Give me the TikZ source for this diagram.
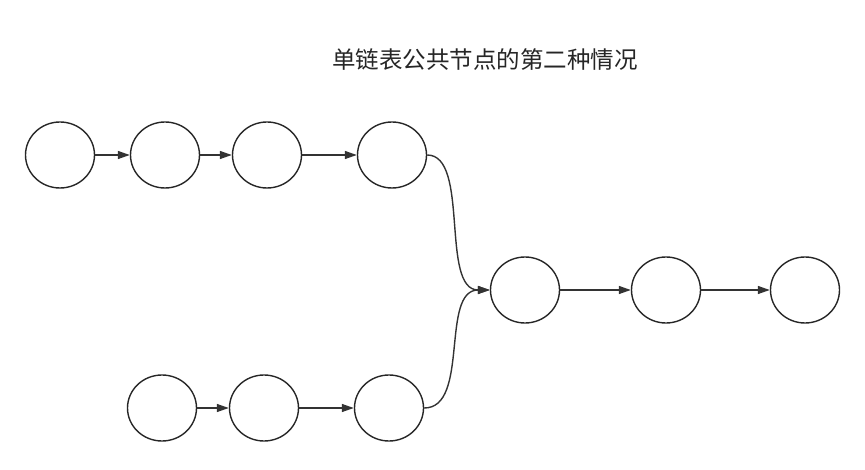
\documentclass[tikz,border=0pt]{standalone}
\usepackage{fontspec}
\newfontfamily\cjk{Noto Sans CJK SC}
\usetikzlibrary{arrows.meta,shapes.geometric}
\begin{document}
\begin{tikzpicture}[x=1pt,y=-1pt,
  nd/.style={draw=black!85,line width=1.4pt,ellipse,minimum width=69pt,minimum height=66pt,inner sep=0pt},
  ar/.style={draw=black!80,line width=1.4pt,-{Triangle[length=12pt,width=8pt]}}]
\useasboundingbox (0,0) rectangle (865,470);
\node[font=\cjk\fontsize{23.5}{26}\selectfont,text=black!85] (t) at (485,60) {单链表公共节点的第二种情况};
\node[nd] (a1) at (60,155) {};
\node[nd] (a2) at (165,155) {};
\node[nd] (a3) at (267,155) {};
\node[nd] (a4) at (392,155) {};
\node[nd] (c1) at (525,290) {};
\node[nd] (c2) at (666,290) {};
\node[nd] (c3) at (805,290) {};
\node[nd] (b1) at (162,408) {};
\node[nd] (b2) at (264,408) {};
\node[nd] (b3) at (389,408) {};
\draw[ar] (a1) -- (a2);
\draw[ar] (a2) -- (a3);
\draw[ar] (a3) -- (a4);
\draw[ar] (a4.east) .. controls (470,155) and (440,290) .. (c1.west);
\draw[ar] (b3.east) .. controls (470,408) and (440,290) .. (c1.west);
\draw[ar] (c1) -- (c2);
\draw[ar] (c2) -- (c3);
\draw[ar] (b1) -- (b2);
\draw[ar] (b2) -- (b3);
\end{tikzpicture}
\end{document}
